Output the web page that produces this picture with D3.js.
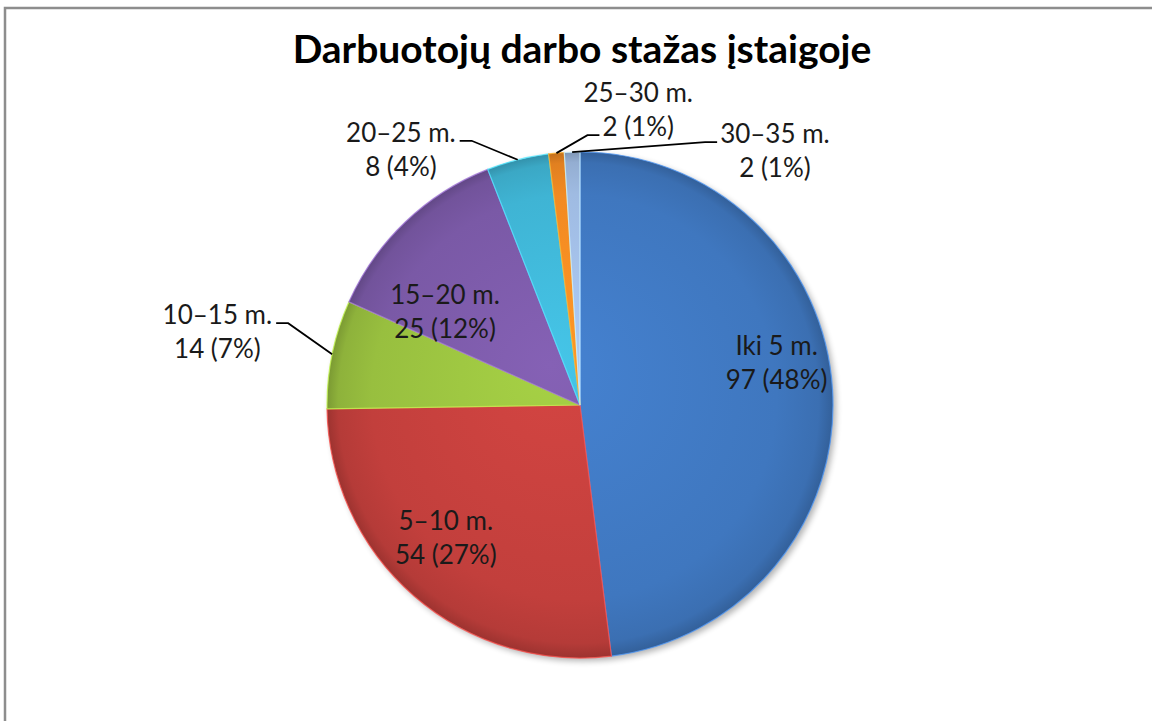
<!DOCTYPE html>
<html>
<head>
<meta charset="utf-8">
<script src="https://cdn.jsdelivr.net/npm/d3@7"></script>
<style>
  body { margin: 0; background: #fff; }
  svg { display: block; }
  .lbl { font-family: Lato, "Open Sans", sans-serif; font-size: 26px; fill: #1a1a1a; }
  .title { font-family: Lato, "Open Sans", sans-serif; font-size: 39px; font-weight: bold; fill: #000; }
</style>
</head>
<body>
<svg id="chart" width="1152" height="721"></svg>
<script>
// chart data
var categories = ["Iki 5 m.", "5–10 m.", "10–15 m.", "15–20 m.", "20–25 m.", "25–30 m.", "30–35 m."];
var counts = [97, 54, 14, 25, 8, 2, 2];
var percents = [48, 27, 7, 12, 4, 1, 1];
var titleText = "Darbuotojų darbo stažas įstaigoje";

var colors = ["#3f77bf", "#c23f3c", "#98bf3f", "#7a59a6", "#3fb4d4", "#f28a22", "#9fbbe2"];

// layout
var width = 1152, height = 721;
var cx = 580, cy = 405, radius = 253;

// label placement tweaks (inside labels: nudge from centroid; outside: leader elbow)
var labelInside = [true, true, false, true, false, false, false];
var insideNudge = {0: [0, -30], 1: [-5, -16], 3: [1, 50]};
var outsideLeader = {
    2: {elbow: [-44, -31], dir: -1, attach: 0},
    4: {elbow: [-46, -19], dir: -1, attach: 0},
    5: {elbow: [31, -18], dir: 1, attach: 1},
    6: {elbow: [133, -10], dir: 1, attach: 0}
};

var svg = d3.select("#chart");
var defs = svg.append("defs");

// frame
svg.append("rect")
    .attr("x", 5).attr("y", 8)
    .attr("width", 1300).attr("height", 900)
    .attr("fill", "none")
    .attr("stroke", "#8d8d8d")
    .attr("stroke-width", 2.5);

// title
svg.append("text")
    .attr("class", "title")
    .attr("x", 582).attr("y", 63)
    .attr("text-anchor", "middle")
    .text(titleText);

// blur for the shadow disc behind the pie
defs.append("filter").attr("id", "blur")
    .attr("x", "-10%").attr("y", "-10%").attr("width", "120%").attr("height", "120%")
    .append("feGaussianBlur").attr("stdDeviation", 3);

// gradients per slice to fake the bevel look (user space of the translated pie group)
colors.forEach(function (c, i) {
    var base = d3.color(c);
    var g = defs.append("radialGradient")
        .attr("id", "grad" + i)
        .attr("gradientUnits", "userSpaceOnUse")
        .attr("cx", 0).attr("cy", 0).attr("r", radius)
        .attr("fx", -30).attr("fy", -40);
    g.append("stop").attr("offset", "0%").attr("stop-color", base.brighter(0.25));
    g.append("stop").attr("offset", "80%").attr("stop-color", base);
    g.append("stop").attr("offset", "95%").attr("stop-color", base.darker(0.2));
    g.append("stop").attr("offset", "100%").attr("stop-color", base.darker(0.6));
});

var pie = d3.pie().sort(null).value(function (d) { return d; });
var arcs = pie(counts);
var arc = d3.arc().innerRadius(0).outerRadius(radius);

// shadow
svg.append("circle")
    .attr("cx", cx + 3).attr("cy", cy + 3).attr("r", radius)
    .attr("fill", "#000").attr("opacity", 0.3)
    .attr("filter", "url(#blur)");

var pieG = svg.append("g")
    .attr("transform", "translate(" + cx + "," + cy + ")");

pieG.selectAll("path")
    .data(arcs)
    .enter().append("path")
        .attr("d", arc)
        .attr("fill", function (d, i) { return "url(#grad" + i + ")"; })
        .attr("stroke", function (d, i) { return d3.color(colors[i]).brighter(0.7); })
        .attr("stroke-width", 1.2)
        .attr("stroke-opacity", 0.8);

// labels
var lineGap = 34;
arcs.forEach(function (d, i) {
    var lines = [categories[i], counts[i] + " (" + percents[i] + "%)"];
    var mid = (d.startAngle + d.endAngle) / 2;
    if (labelInside[i]) {
        var c = d3.arc().innerRadius(197).outerRadius(197).centroid(d);
        var n = insideNudge[i] || [0, 0];
        var lx = cx + c[0] + n[0], ly = cy + c[1] + n[1];
        lines.forEach(function (t, k) {
            svg.append("text")
                .attr("class", "lbl")
                .attr("x", lx)
                .attr("y", ly - 8 + k * lineGap)
                .attr("text-anchor", "middle")
                .text(t);
        });
    } else {
        var o = outsideLeader[i];
        var ex = cx + radius * Math.sin(mid), ey = cy - radius * Math.cos(mid);
        var bx = ex + o.elbow[0], by = ey + o.elbow[1];
        var endX = bx + o.dir * 12;
        svg.append("polyline")
            .attr("points", [[ex, ey], [bx, by], [endX, by]].map(function (p) { return p.join(","); }).join(" "))
            .attr("fill", "none")
            .attr("stroke", "#000")
            .attr("stroke-width", 1.8);
        // measure the attaching line to center the block on it
        var probe = svg.append("text").attr("class", "lbl").text(lines[o.attach]);
        var w = probe.node().getComputedTextLength();
        probe.remove();
        var blockX = o.dir < 0 ? endX - 4 - w / 2 : endX + 3 + w / 2;
        var baseY = by + 1 - o.attach * lineGap;
        lines.forEach(function (t, k) {
            svg.append("text")
                .attr("class", "lbl")
                .attr("x", blockX)
                .attr("y", baseY + k * lineGap)
                .attr("text-anchor", "middle")
                .text(t);
        });
    }
});
</script>
</body>
</html>
